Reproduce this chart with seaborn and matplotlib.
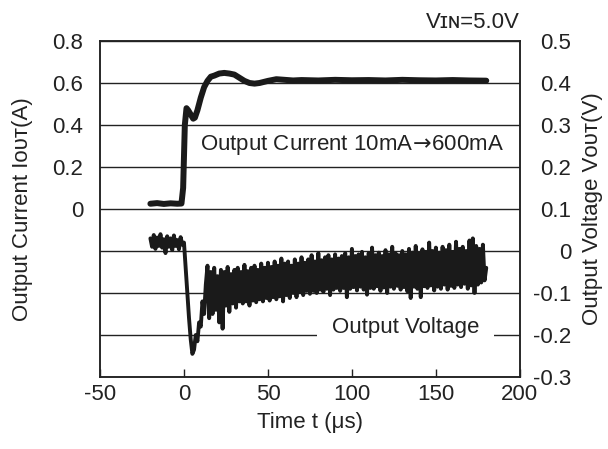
"""
Load transient response: output current step and output voltage
"""

import numpy as np
import matplotlib.pyplot as plt
import seaborn as sns

# ================================= #
# DATA
# ================================= #

# output current (A), left axis
t_current = [-20, -16, -12, -8, -4, -1.5, -0.5, 0.5, 1.5, 2.5, 4, 5.5, 6.5, 8,
             10, 12, 14, 16, 18, 21, 24, 27, 30, 33, 36, 39, 42, 45, 50, 55,
             60, 65, 70, 80, 90, 100, 110, 120, 130, 140, 150, 160, 170, 180]
i_current = [0.025, 0.028, 0.024, 0.027, 0.025, 0.026, 0.10, 0.40, 0.48, 0.47,
             0.45, 0.43, 0.435, 0.47, 0.53, 0.58, 0.61, 0.63, 0.635, 0.645,
             0.648, 0.645, 0.64, 0.625, 0.61, 0.60, 0.597, 0.60, 0.61, 0.618,
             0.615, 0.612, 0.614, 0.612, 0.615, 0.613, 0.614, 0.612, 0.615,
             0.613, 0.612, 0.614, 0.612, 0.611]

# output voltage (V), right axis, one sample per microsecond from -20 to 180
t_voltage = np.arange(-20, 181, 1)
v_voltage = [
    # -20 .. -1
    0.030, 0.010, 0.038, 0.005, 0.032, 0.012, 0.040, 0.008, 0.028, -0.005,
    0.035, 0.010, 0.030, 0.002, 0.037, 0.012, 0.026, 0.004, 0.033, 0.015,
    # 0 .. 14
    0.020, -0.040, -0.100, -0.160, -0.210, -0.245, -0.235, -0.200, -0.215,
    -0.170, -0.180, -0.120, -0.150, -0.080, -0.035,
    # 15 .. 174
    -0.160, -0.050, -0.150, -0.040, -0.140, -0.060, -0.170, -0.045, -0.185, -0.050,
    -0.130, -0.038, -0.145, -0.055, -0.125, -0.045, -0.135, -0.040, -0.120, -0.050,
    -0.125, -0.033, -0.120, -0.048, -0.130, -0.040, -0.118, -0.035, -0.122, -0.045,
    -0.115, -0.030, -0.120, -0.040, -0.112, -0.028, -0.118, -0.038, -0.110, -0.025,
    -0.115, -0.035, -0.108, -0.018, -0.120, -0.030, -0.105, -0.025, -0.112, -0.035,
    -0.100, -0.020, -0.110, -0.030, -0.098, -0.015, -0.105, -0.028, -0.095, -0.020,
    -0.102, -0.010, -0.095, -0.025, -0.100, -0.005, -0.092, -0.022, -0.098, -0.015,
    -0.090, -0.010, -0.105, -0.020, -0.092, -0.008, -0.088, -0.018, -0.095, -0.012,
    -0.088, -0.005, -0.110, -0.015, -0.090, 0.005, -0.086, -0.012, -0.094, -0.008,
    -0.085, -0.002, -0.092, -0.015, -0.104, -0.005, -0.088, 0.008, -0.090, -0.010,
    -0.084, -0.004, -0.095, -0.012, -0.087, 0.002, -0.100, -0.008, -0.085, 0.010,
    -0.090, -0.005, -0.083, -0.010, -0.092, 0.000, -0.086, -0.008, -0.096, 0.005,
    -0.112, -0.004, -0.085, 0.012, -0.090, -0.006, -0.110, 0.004, -0.084, -0.002,
    -0.088, 0.020, -0.082, 0.000, -0.094, 0.008, -0.085, -0.004, -0.090, 0.010,
    -0.080, 0.002, -0.092, 0.015, -0.083, -0.002, -0.088, 0.022, -0.080, 0.005,
    -0.086, 0.010, -0.078, 0.000, -0.090, 0.025, -0.082, 0.030, -0.100, 0.012,
    # 175 .. 180
    -0.080, 0.005, -0.075, 0.015, -0.070, -0.040,
]

x_ticks = [-50, 0, 50, 100, 150, 200]
left_ticks = [-0.8, -0.6, -0.4, -0.2, 0, 0.2, 0.4, 0.6, 0.8]
left_labels = ['', '', '', '', '0', '0.2', '0.4', '0.6', '0.8']
right_ticks = [-0.3, -0.2, -0.1, 0, 0.1, 0.2, 0.3, 0.4, 0.5]
right_labels = ['-0.3', '-0.2', '-0.1', '0', '0.1', '0.2', '0.3', '0.4', '0.5']

# ================================= #
# STYLE
# ================================= #

sns.set_style('ticks')
plt.rcParams['font.family'] = ['Liberation Sans', 'DejaVu Sans']
plt.rcParams['font.size'] = 16
plt.rcParams['axes.unicode_minus'] = False
plt.rcParams['text.color'] = '#222222'
plt.rcParams['axes.labelcolor'] = '#222222'
plt.rcParams['xtick.color'] = '#222222'
plt.rcParams['ytick.color'] = '#222222'

fig, ax = plt.subplots(figsize=(6.08, 4.49), dpi=100)
fig.subplots_adjust(left=0.1645, right=0.855, bottom=0.1604, top=0.9087)
ax2 = ax.twinx()

# current trace on the left axis
sns.lineplot(x=t_current, y=i_current, ax=ax, color='#1a1a1a', lw=4.3,
             estimator=None, sort=False, solid_capstyle='round')
# voltage trace on the right axis
sns.lineplot(x=t_voltage, y=v_voltage, ax=ax2, color='#1a1a1a', lw=2.8,
             estimator=None, sort=False, solid_joinstyle='round')

ax.set_xlim(-50, 200)
ax.set_ylim(-0.8, 0.8)
ax2.set_ylim(-0.3, 0.5)
ax.set_xticks(x_ticks)
ax.set_yticks(left_ticks)
ax.set_yticklabels(left_labels)
ax2.set_yticks(right_ticks)
ax2.set_yticklabels(right_labels)

ax.grid(axis='y', color='#222222', lw=1.0)
ax.set_axisbelow(True)

ax.tick_params(axis='x', direction='in', length=6, width=1, pad=5, top=False)
ax.tick_params(axis='y', length=0, pad=12)
ax2.tick_params(axis='y', length=0, pad=37)
for lab in ax2.get_yticklabels():
    lab.set_horizontalalignment('right')

for a in (ax, ax2):
    for sp in a.spines.values():
        sp.set_visible(True)
        sp.set_color('#222222')
        sp.set_linewidth(1.1)

ax.set_xlabel('Time t (\u03bcs)', labelpad=5)
ax.set_ylabel('Output Current I\u1d0f\u1d1c\u1d1b(A)', labelpad=14)
ax2.set_ylabel('Output Voltage V\u1d0f\u1d1c\u1d1b(V)')
ax2.yaxis.set_label_coords(1.147, 0.5)

# annotations
ax2.text(9.5, 0.252, 'Output Current 10mA$\\!\\rightarrow\\!$600mA',
         ha='left', va='center')
ax2.text(88, -0.181, 'Output Voltage', ha='left', va='center', zorder=5,
         bbox=dict(boxstyle='square,pad=0.65', fc='white', ec='none'))
ax.text(1.0, 1.025, 'V\u026a\u0274=5.0V', transform=ax.transAxes,
        ha='right', va='bottom')

fig.savefig('out.png', dpi=100)
